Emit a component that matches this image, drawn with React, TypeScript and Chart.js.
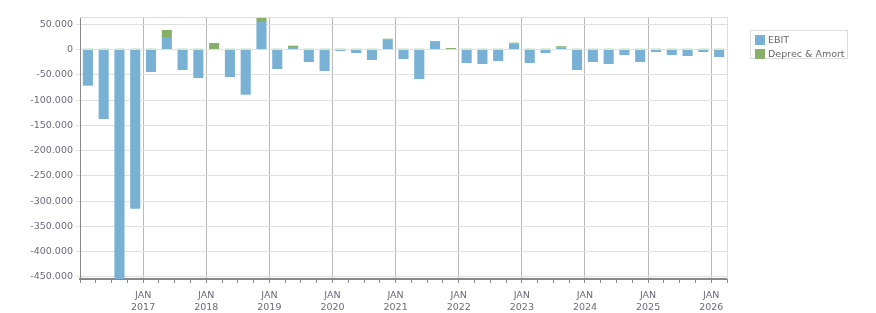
import React, { useEffect, useRef } from "react";
import { Chart, registerables } from "chart.js";

Chart.register(...registerables);

// Quarterly periods, Q1 2016 .. Q1 2026
const quarters: string[] = [
  "2016 Q1", "2016 Q2", "2016 Q3", "2016 Q4",
  "2017 Q1", "2017 Q2", "2017 Q3", "2017 Q4",
  "2018 Q1", "2018 Q2", "2018 Q3", "2018 Q4",
  "2019 Q1", "2019 Q2", "2019 Q3", "2019 Q4",
  "2020 Q1", "2020 Q2", "2020 Q3", "2020 Q4",
  "2021 Q1", "2021 Q2", "2021 Q3", "2021 Q4",
  "2022 Q1", "2022 Q2", "2022 Q3", "2022 Q4",
  "2023 Q1", "2023 Q2", "2023 Q3", "2023 Q4",
  "2024 Q1", "2024 Q2", "2024 Q3", "2024 Q4",
  "2025 Q1", "2025 Q2", "2025 Q3", "2025 Q4",
  "2026 Q1",
];

const ebit: number[] = [
  -71600, -137500, -480000, -315000,
  -44500, 24700, -40500, -56400,
  -1000, -54400, -89400, 54400,
  -38600, 5000, -24700, -42500,
  -3000, -6900, -20800, 19400,
  -18800, -58400, 15400, 0,
  -26700, -28700, -22700, 11500,
  -26700, -6900, 3500, -40500,
  -24700, -28700, -10900, -24700,
  -4900, -10900, -12900, -4900,
  -14800,
];

const deprecAmort: number[] = [
  1500, 1500, 1500, 1500,
  1500, 13900, 1500, 1500,
  12900, 1500, 1500, 8500,
  1500, 2500, 1500, 1500,
  1500, 1500, 1500, 2000,
  1500, 1500, 1500, 3000,
  1500, 1500, 1500, 2000,
  1500, 1500, 3000, 1500,
  1500, 1500, 1500, 1500,
  1500, 1500, 1500, 1500,
  1500,
];

const yTickValues: number[] = [
  -450000, -400000, -350000, -300000, -250000, -200000,
  -150000, -100000, -50000, 0, 50000,
];

const monthLabel = "JAN";
const yearLabels: string[] = ["2017", "2018", "2019", "2020", "2021", "2022", "2023", "2024", "2025", "2026"];

const seriesNames = ["EBIT", "Deprec & Amort"];
const seriesColors = ["#78b1d4", "#86b068"];

const FONT = "'DejaVu Sans', Verdana, sans-serif";
const TEXT = "#6a6a7c";

function fmt(v: number): string {
  const s = Math.abs(Math.round(v)).toString().replace(/\B(?=(\d{3})+(?!\d))/g, ".");
  return (v < 0 ? "-" : "") + s;
}

const frame = {
  id: "frame",
  afterDraw(chart: any) {
    const { ctx, chartArea } = chart;
    ctx.save();
    ctx.strokeStyle = "#dddddd";
    ctx.lineWidth = 1;
    ctx.beginPath();
    ctx.moveTo(chartArea.left, Math.round(chartArea.top) + 0.5);
    ctx.lineTo(Math.round(chartArea.right) + 0.5, Math.round(chartArea.top) + 0.5);
    ctx.lineTo(Math.round(chartArea.right) + 0.5, chartArea.bottom);
    ctx.stroke();
    ctx.restore();
  },
};

export default function App() {
  const ref = useRef<HTMLCanvasElement>(null);

  useEffect(() => {
    if (!ref.current) return;
    const toPoints = (arr: number[]) => arr.map((y, i) => ({ x: i + 0.5, y }));
    const chart = new Chart(ref.current, {
      type: "bar",
      data: {
        labels: quarters,
        datasets: [
          {
            label: seriesNames[0],
            data: toPoints(ebit) as any,
            backgroundColor: seriesColors[0],
            barPercentage: 0.64,
            categoryPercentage: 1,
            stack: "s",
          },
          {
            label: seriesNames[1],
            data: toPoints(deprecAmort) as any,
            backgroundColor: seriesColors[1],
            barPercentage: 0.64,
            categoryPercentage: 1,
            stack: "s",
          },
        ],
      },
      options: {
        responsive: false,
        animation: false,
        layout: { padding: { top: 17, right: 149, left: 0, bottom: 0 } },
        plugins: {
          legend: { display: false },
          tooltip: { enabled: false },
        },
        scales: {
          x: {
            type: "linear",
            stacked: true,
            min: 0,
            max: quarters.length,
            offset: false,
            afterFit: (s: any) => {
              s.height = 34;
            },
            grid: {
              offset: false,
              drawOnChartArea: true,
              color: (c: any) => {
                const v = c.tick ? c.tick.value : -1;
                return v > 0 && v < quarters.length && v % 4 === 0 ? "#b8b8b8" : "rgba(0,0,0,0)";
              },
              tickColor: "#8a8a8a",
              tickLength: 4,
            },
            border: { color: "#888888", width: 2 },
            ticks: {
              stepSize: 1,
              autoSkip: false,
              maxRotation: 0,
              padding: 6,
              color: TEXT,
              font: { family: FONT, size: 9.5, lineHeight: 1.3 },
              callback: (value: any) => {
                const v = Number(value);
                if (v > 0 && v % 4 === 0) {
                  const y = yearLabels[v / 4 - 1];
                  return y ? [monthLabel, y] : "";
                }
                return "";
              },
            },
          },
          y: {
            stacked: true,
            min: -454000,
            max: 64300,
            afterFit: (s: any) => {
              s.width = 80;
            },
            afterBuildTicks: (s: any) => {
              s.ticks = yTickValues.map((v) => ({ value: v }));
            },
            grid: {
              color: "#e0e0e0",
              tickLength: 4,
            },
            border: { color: "#888888", width: 1 },
            ticks: {
              padding: 3,
              color: TEXT,
              font: { family: FONT, size: 9.5 },
              callback: (v: any) => fmt(Number(v)),
            },
          },
        },
      },
      plugins: [frame],
    } as any);
    return () => chart.destroy();
  }, []);

  return (
    <div style={{ position: "absolute", left: 0, top: 0, width: 876, height: 313, background: "#fff" }}>
      <canvas ref={ref} width={876} height={313} style={{ display: "block", width: 876, height: 313 }} />
      <div
        style={{
          position: "absolute",
          left: 750,
          top: 30,
          width: 98,
          height: 29,
          boxSizing: "border-box",
          border: "1px solid #dddddd",
          fontFamily: FONT,
          fontSize: 9.5,
          color: "#666",
        }}
      >
        {seriesNames.map((n, i) => (
          <div
            key={n}
            style={{ position: "absolute", left: 4, top: 3 + i * 14, height: 11, display: "flex", alignItems: "center", whiteSpace: "nowrap" }}
          >
            <span style={{ display: "inline-block", width: 10, height: 10, background: seriesColors[i], marginRight: 3 }} />
            <span>{n}</span>
          </div>
        ))}
      </div>
    </div>
  );
}
